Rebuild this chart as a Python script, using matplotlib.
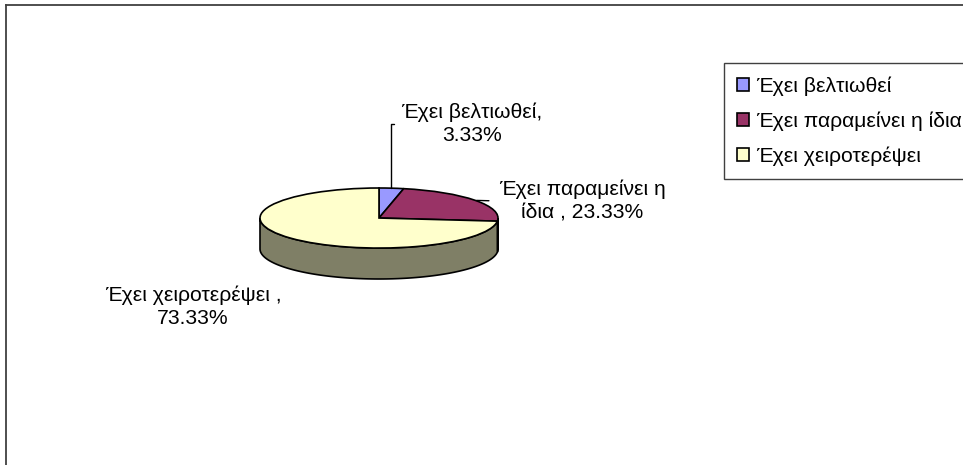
import numpy as np
import matplotlib
matplotlib.use("Agg")
import matplotlib.pyplot as plt
from matplotlib.patches import Polygon, Patch
from matplotlib.lines import Line2D

plt.rcParams['font.family'] = ['Liberation Sans', 'DejaVu Sans']

# Data
categories = ["Έχει βελτιωθεί", "Έχει παραμείνει η ίδια", "Έχει χειροτερέψει"]
percentages = [3.33, 23.33, 73.33]
point_labels = ["Έχει βελτιωθεί,\n3.33%",
                "Έχει παραμείνει η\nίδια , 23.33%",
                "Έχει χειροτερέψει ,\n73.33%"]

top_colors = ["#9999FF", "#993366", "#FFFFCC"]
side_colors = ["#4C4C7F", "#4C1933", "#7F7F66"]

W, H = 963, 465
fig = plt.figure(figsize=(W / 100, H / 100), dpi=100)
fig.patch.set_facecolor("white")

# Overlay axes in pixel units (y downward) for the outer frame
base = fig.add_axes([0, 0, 1, 1])
base.set_xlim(0, W)
base.set_ylim(H, 0)
base.axis("off")
base.add_line(Line2D([6, W], [5, 5], color="#404040", lw=1.3))
base.add_line(Line2D([6, 6], [5, H], color="#404040", lw=1.3))

# Pie axes: unit circle stretched into an ellipse, with room for the depth
depth = 1.03
px_left, px_right, px_top, px_bottom = 260, 498, 188, 279
pie_ax = fig.add_axes([px_left / W, (H - px_bottom) / H,
                       (px_right - px_left) / W, (px_bottom - px_top) / H])

frac = np.array(percentages) / np.sum(percentages)
starts = 90 - 360 * np.concatenate([[0], np.cumsum(frac)[:-1]])
ends = starts - 360 * frac

# Side walls of the slices on the front half
for s, e, c in zip(starts, ends, side_colors):
    lo, hi = max(min(s, e), -180), min(max(s, e), 0)
    if hi <= lo:
        continue
    t = np.radians(np.linspace(hi, lo, 120))
    xs = np.cos(t)
    ys = np.sin(t)
    pts = np.column_stack([np.concatenate([xs, xs[::-1]]),
                           np.concatenate([ys, ys[::-1] - depth])])
    pie_ax.add_patch(Polygon(pts, closed=True, facecolor=c, edgecolor="black",
                             lw=1.2, zorder=1, clip_on=False))

wedges, _ = pie_ax.pie(percentages, colors=top_colors, startangle=90,
                       counterclock=False, radius=1,
                       wedgeprops=dict(edgecolor="black", linewidth=1.2))
for w in wedges:
    w.set_zorder(2)
    w.set_clip_on(False)
pie_ax.set_aspect("auto")
pie_ax.set_xlim(-1, 1)
pie_ax.set_ylim(-1 - depth, 1)
pie_ax.axis("off")

# Data labels
mid = np.radians((starts + ends) / 2)
fs = 15.2
pie_ax.annotate(point_labels[0], xy=(np.cos(mid[0]), np.sin(mid[0])),
                xytext=(472, H - 124), textcoords="figure pixels",
                ha="center", va="center", fontsize=fs, linespacing=1.25,
                arrowprops=dict(arrowstyle="-", color="black", lw=1,
                                shrinkA=3, shrinkB=0, relpos=(0, 0.5),
                                connectionstyle="angle,angleA=180,angleB=90,rad=0"))
pie_ax.annotate(point_labels[1], xy=(np.cos(mid[1]), np.sin(mid[1])),
                xytext=(582, H - 201), textcoords="figure pixels",
                ha="center", va="center", fontsize=fs, linespacing=1.25,
                arrowprops=dict(arrowstyle="-", color="black", lw=1,
                                shrinkA=5, shrinkB=1, relpos=(0, 0.5)))
pie_ax.annotate(point_labels[2], xy=(np.cos(mid[2]), np.sin(mid[2])),
                xytext=(193, H - 307), textcoords="figure pixels",
                ha="center", va="center", fontsize=fs, linespacing=1.25)

# Legend
handles = [Patch(facecolor=c, edgecolor="black", lw=1.2) for c in top_colors]
leg = fig.legend(handles, categories, loc="upper left",
                 bbox_to_anchor=(724 / W, (H - 63) / H), fontsize=fs,
                 frameon=True, fancybox=False, framealpha=1,
                 edgecolor="#404040", borderpad=0.62, labelspacing=0.74,
                 handlelength=0.57, handleheight=0.57, handletextpad=0.33,
                 borderaxespad=0)
leg.get_frame().set_linewidth(1.0)

fig.savefig("out.png", dpi=100, facecolor="white")
